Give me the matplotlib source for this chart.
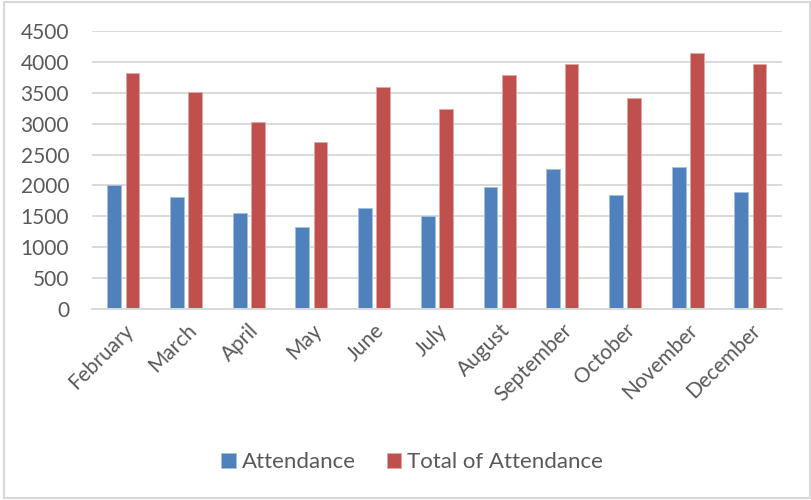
import matplotlib.pyplot as plt
import numpy as np
from matplotlib.patches import Rectangle

months = ["February", "March", "April", "May", "June", "July",
          "August", "September", "October", "November", "December"]
attendance = [2010, 1820, 1550, 1320, 1630, 1510, 1970, 2270, 1840, 2300, 1900]
total_attendance = [3820, 3510, 3020, 2700, 3590, 3240, 3780, 3960, 3410, 4140, 3960]
yticks = [0, 500, 1000, 1500, 2000, 2500, 3000, 3500, 4000, 4500]

plt.rcParams["font.family"] = ["Lato", "DejaVu Sans"]
text_color = "#595959"
grid_color = "#d9d9d9"

fig = plt.figure(figsize=(8.11, 5.0), dpi=100)
ax = fig.add_axes([0.1134, 0.382, 0.8506, 0.556])

x = np.arange(len(months))
width = 0.22
offset = 0.145
ax.bar(x - offset, attendance, width, color="#4f81bd", label="Attendance",
       edgecolor="#a7c0de", linewidth=0.6, zorder=3)
ax.bar(x + offset, total_attendance, width, color="#c0504d", label="Total of Attendance",
       edgecolor="#e0a8a6", linewidth=0.6, zorder=3)

ax.set_xlim(-0.5, len(months) - 0.5)
ax.set_ylim(0, 4500)
ax.set_yticks(yticks)
ax.set_yticklabels([str(v) for v in yticks])
ax.set_xticks(x)
ax.set_xticklabels(months, rotation=45, ha="right", rotation_mode="anchor")

ax.yaxis.grid(True, color=grid_color, linewidth=1.4, zorder=0)
for side in ["left", "right", "top"]:
    ax.spines[side].set_visible(False)
ax.spines["bottom"].set_color(grid_color)
ax.spines["bottom"].set_linewidth(1.4)
ax.spines["bottom"].set_zorder(4)
ax.tick_params(axis="both", length=0, labelsize=15, colors=text_color)
ax.tick_params(axis="y", pad=16.5)
ax.tick_params(axis="x", pad=8)

fig.legend(loc="center", bbox_to_anchor=(0.508, 0.076), ncol=2, frameon=False,
           fontsize=16, labelcolor=text_color, handlelength=0.65, handleheight=0.65,
           handletextpad=0.25, columnspacing=1.4)

# light frame around the whole chart
fig.patches.append(Rectangle((4 / 811, 2 / 500), 806 / 811, 496 / 500,
                             transform=fig.transFigure, fill=False,
                             edgecolor="#d9d9d9", linewidth=1.5))

fig.savefig("out.png", dpi=100)
